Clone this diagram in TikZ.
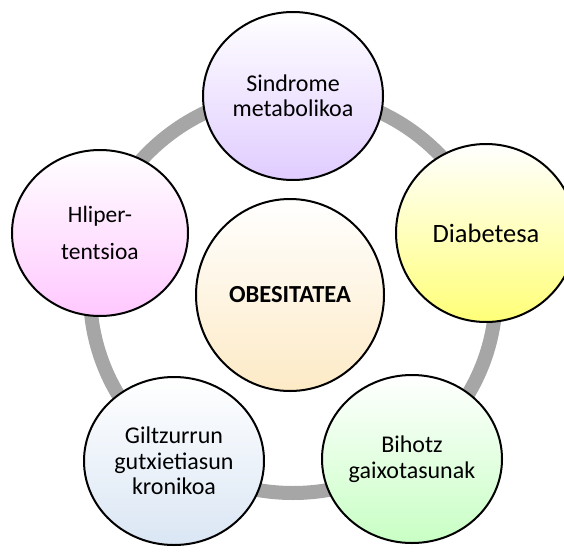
\documentclass[tikz,border=0pt]{standalone}
\usepackage{fontspec}
\setmainfont{Carlito}
\usetikzlibrary{shapes.geometric}
\definecolor{ringgray}{HTML}{A6A6A6}
\definecolor{cpurple}{RGB}{224,204,255}
\definecolor{cyellow}{RGB}{255,255,120}
\definecolor{cgreen}{RGB}{200,255,196}
\definecolor{cblue}{RGB}{218,230,244}
\definecolor{cpink}{RGB}{255,200,255}
\definecolor{corange}{RGB}{253,234,198}
\tikzset{
  bubble/.style={ellipse, draw=black, line width=2pt, inner sep=0pt,
    minimum width=180pt, minimum height=168pt, align=center,
    shading=axis, top color=white,
    font=\fontsize{24}{25.5}\selectfont},
  ring/.style={draw=ringgray, line width=14pt}
}
\begin{document}
\begin{tikzpicture}[x=1pt,y=-1pt]
\useasboundingbox (0,0) rectangle (564,551);
\coordinate (rc) at (293,293);
\draw[ring] (rc) ellipse [x radius=203, y radius=200];
\node[bubble, bottom color=corange, minimum width=188pt, minimum height=192pt,
      font=\fontsize{24.5}{27}\selectfont\bfseries] (obes) at (290,295) {OBESITATEA};
\node[bubble, bottom color=cpurple] (sind) at (293,96) {Sindrome\\metabolikoa};
\node[bubble, bottom color=cyellow, minimum height=178pt,
      font=\fontsize{26.5}{30}\selectfont] (diab) at (486,233) {Diabetesa};
\node[bubble, bottom color=cgreen] (biho) at (412,459) {Bihotz\\gaixotasunak};
\node[bubble, bottom color=cblue] (gilt) at (174,461) {Giltzurrun\\gutxietiasun\\kronikoa};
\node[bubble, bottom color=cpink, minimum width=176pt, minimum height=166pt,
      font=\fontsize{23.5}{37}\selectfont] (hipe) at (100,233) {Hliper-\\tentsioa};
\end{tikzpicture}
\end{document}
